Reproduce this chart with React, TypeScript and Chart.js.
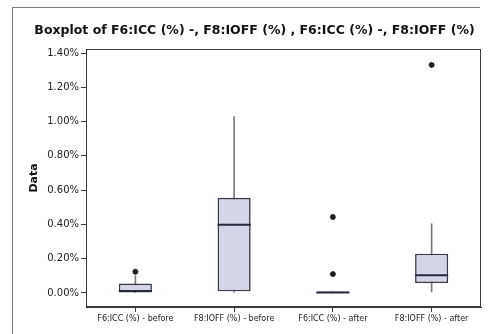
import React, { useEffect, useRef } from "react";
import { Chart, registerables } from "chart.js";

Chart.register(...registerables);

const categories = [
  "F6:ICC (%) - before",
  "F8:IOFF (%) - before",
  "F6:ICC (%) - after",
  "F8:IOFF (%) - after",
];
const q1 = [0.0, 0.01, 0.0, 0.058];
const q3 = [0.055, 0.555, 0.008, 0.229];
const medians = [0.012, 0.398, 0.003, 0.103];
const whiskerLow = [0.0, 0.005, 0.0, 0.006];
const whiskerHigh = [0.1, 1.03, 0.008, 0.404];
const outlierCats = [0, 2, 2, 3];
const outlierVals = [0.124, 0.443, 0.11, 1.331];
const yTicks = [0, 0.2, 0.4, 0.6, 0.8, 1.0, 1.2, 1.4];
const titleText = "Boxplot of F6:ICC (%) -, F8:IOFF (%) , F6:ICC (%) -, F8:IOFF (%)";

const FONT = "'DejaVu Sans', Verdana, sans-serif";

export default function App() {
  const ref = useRef<HTMLCanvasElement>(null);

  useEffect(() => {
    if (!ref.current) return;
    const medianPlugin = {
      id: "medianAndFrame",
      afterDatasetsDraw(chart: any) {
        const ctx = chart.ctx;
        const meta = chart.getDatasetMeta(1);
        const y = chart.scales.y;
        ctx.save();
        meta.data.forEach((el: any, i: number) => {
          const py = y.getPixelForValue(medians[i]);
          ctx.strokeStyle = "#252a3c";
          ctx.lineWidth = 2;
          ctx.beginPath();
          ctx.moveTo(el.x - el.width / 2, py);
          ctx.lineTo(el.x + el.width / 2, py);
          ctx.stroke();
        });
        const a = chart.chartArea;
        ctx.strokeStyle = "#3a3a3a";
        ctx.lineWidth = 1;
        ctx.strokeRect(a.left + 0.5, a.top + 0.5, a.right - a.left - 1, a.bottom - a.top - 1);
        ctx.restore();
      },
    };

    const chart = new Chart(ref.current, {
      type: "bar",
      data: {
        labels: categories,
        datasets: [
          {
            type: "bar",
            data: categories.map((_, i) => [whiskerLow[i], whiskerHigh[i]]),
            backgroundColor: "#7a7a7a",
            barThickness: 1,
            grouped: false,
            order: 3,
          } as any,
          {
            type: "bar",
            data: categories.map((_, i) => [q1[i], q3[i]]),
            backgroundColor: "#d5d5e8",
            borderColor: "#373b4a",
            borderWidth: 1.6,
            borderSkipped: false,
            barPercentage: 0.335,
            categoryPercentage: 1,
            grouped: false,
            order: 2,
          } as any,
          {
            type: "line",
            data: outlierCats.map((c, i) => ({ x: categories[c], y: outlierVals[i] })),
            showLine: false,
            pointStyle: "star",
            pointRadius: 3,
            borderWidth: 1.6,
            borderColor: "#1e1e1e",
            backgroundColor: "#1e1e1e",
            order: 1,
          } as any,
        ],
      },
      options: {
        animation: false,
        responsive: false,
        maintainAspectRatio: false,
        layout: { padding: { left: 28, right: 13, top: 0, bottom: 0 } },
        plugins: {
          legend: { display: false },
          tooltip: { enabled: false },
          title: {
            display: true,
            text: titleText,
            color: "#111",
            font: { family: FONT, size: 12.5, weight: "bold" },
            padding: { top: 23, bottom: 11 },
          },
        },
        scales: {
          x: {
            type: "category",
            offset: true,
            grid: {
              offset: false,
              drawOnChartArea: false,
              drawTicks: true,
              tickLength: 5,
              color: "#3a3a3a",
            },
            border: { color: "#3a3a3a" },
            ticks: {
              color: "#222",
              font: { family: FONT, size: 8 },
              padding: 2,
              maxRotation: 0,
              autoSkip: false,
            },
            afterFit(scale: any) {
              scale.height = 27;
            },
          },
          y: {
            type: "linear",
            min: -0.082,
            max: 1.424,
            grid: { drawOnChartArea: false, drawTicks: true, tickLength: 5, color: "#3a3a3a" },
            border: { color: "#3a3a3a" },
            afterBuildTicks(scale: any) {
              scale.ticks = yTicks.map((v) => ({ value: v }));
            },
            ticks: {
              color: "#222",
              font: { family: FONT, size: 10 },
              padding: 2,
              callback: (v: any) => `${Number(v).toFixed(2)}%`,
            },
            title: {
              display: true,
              text: "Data",
              color: "#111",
              font: { family: FONT, size: 11, weight: "bold", lineHeight: 1.1 },
              padding: { top: 0, bottom: 0 },
            },
            afterFit(scale: any) {
              scale.width = 58;
            },
          },
        },
      } as any,
      plugins: [medianPlugin],
    });
    return () => chart.destroy();
  }, []);

  return (
    <div
      style={{
        position: "fixed",
        left: 0,
        top: 0,
        width: 494,
        height: 334,
        background: "#fff",
        overflow: "hidden",
      }}
    >
      <div
        style={{
          position: "absolute",
          left: 12,
          top: 7,
          width: 468,
          height: 1,
          background: "#7c7c7c",
        }}
      />
      <div
        style={{
          position: "absolute",
          left: 12,
          top: 7,
          width: 1,
          height: 327,
          background: "#7c7c7c",
        }}
      />
      <canvas
        ref={ref}
        width={494}
        height={334}
        style={{ position: "absolute", left: 0, top: 0, width: 494, height: 334 }}
      />
    </div>
  );
}
